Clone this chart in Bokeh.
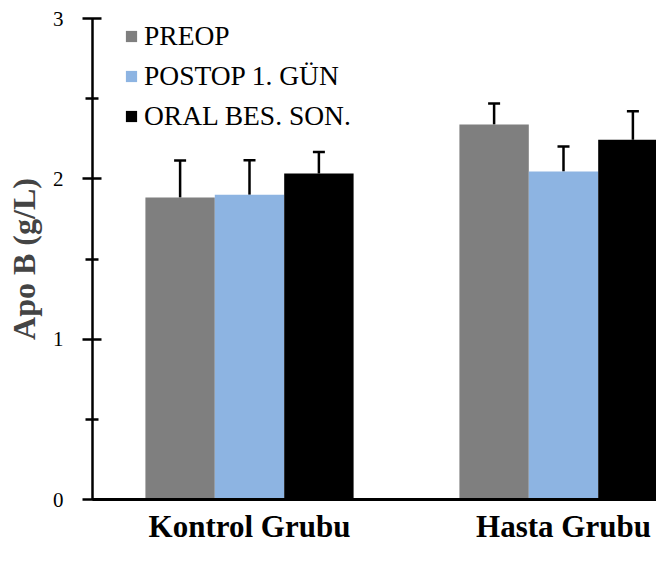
import numpy as np
from bokeh.plotting import figure
from bokeh.models import ColumnDataSource, Whisker, TeeHead, FixedTicker, Legend, LegendItem, Range1d
from bokeh.embed import file_html
from bokeh.resources import INLINE

# ---- data ----
groups = ["Kontrol Grubu", "Hasta Grubu"]
series = ["PREOP", "POSTOP 1. GÜN", "ORAL BES. SON."]
preop = [1.884, 2.339]
postop = [1.900, 2.046]
oral = [2.033, 2.243]
preop_err = [0.230, 0.131]
postop_err = [0.216, 0.156]
oral_err = [0.135, 0.179]
y_ticks = [0, 1, 2, 3]
colors = ["#7F7F7F", "#8DB4E2", "#000000"]

values = [preop, postop, oral]
errors = [preop_err, postop_err, oral_err]

bar_w = 0.221
offsets = [-bar_w, 0.0, bar_w]
centers = np.arange(len(groups)) + 0.5

p = figure(width=656, height=546, output_backend="svg", toolbar_location=None,
           x_range=Range1d(0, 564 / 314), y_range=Range1d(0, 3),
           min_border_left=92, min_border_top=18, min_border_bottom=47, min_border_right=0)
p.outline_line_color = None
p.xgrid.grid_line_color = None
p.ygrid.grid_line_color = None
p.background_fill_color = "white"

legend_items = []
for name, vals, errs, off, col in zip(series, values, errors, offsets, colors):
    src = ColumnDataSource(dict(x=centers + off, top=vals,
                                upper=[v + e for v, e in zip(vals, errs)]))
    r = p.vbar(x="x", top="top", width=bar_w, bottom=0, source=src,
               fill_color=col, line_color=None)
    w = Whisker(source=src, base="x", lower="top", upper="upper",
                line_color="black", line_width=2.5, lower_head=None,
                upper_head=TeeHead(size=12, line_width=2.5, line_color="black"))
    p.add_layout(w)
    legend_items.append(LegendItem(label=name, renderers=[r]))

legend = Legend(items=legend_items, location=(32, 363), orientation="vertical",
                glyph_width=14, glyph_height=14, label_height=40, spacing=0,
                label_standoff=6, padding=0, margin=0,
                border_line_color=None, background_fill_alpha=0,
                label_text_font="Liberation Serif", label_text_font_size="27.5px",
                label_text_color="black")
p.add_layout(legend)

# y axis
ya = p.yaxis[0]
ya.ticker = FixedTicker(ticks=y_ticks, minor_ticks=[0.5, 1.5, 2.5])
ya.axis_label = "Apo B (g/L)"
ya.axis_label_text_font = "Liberation Serif"
ya.axis_label_text_font_style = "bold"
ya.axis_label_text_font_size = "32px"
ya.axis_label_standoff = 8
ya.major_label_text_font = "Liberation Serif"
ya.major_label_text_font_size = "21px"
ya.major_label_text_color = "black"
ya.major_label_standoff = 19
ya.axis_line_width = 2.5
ya.axis_line_color = "black"
ya.major_tick_in = 9
ya.major_tick_out = 10
ya.major_tick_line_width = 2.5
ya.major_tick_line_color = "black"
ya.minor_tick_in = 6
ya.minor_tick_out = 7
ya.minor_tick_line_width = 2.5
ya.minor_tick_line_color = "black"

# x axis
xa = p.xaxis[0]
xa.ticker = FixedTicker(ticks=list(centers))
xa.major_label_overrides = {float(c): g for c, g in zip(centers, groups)}
xa.major_label_text_font = "Liberation Serif"
xa.major_label_text_font_style = "bold"
xa.major_label_text_font_size = "31px"
xa.major_label_text_color = "black"
xa.major_label_standoff = 3
xa.axis_line_width = 3
xa.axis_line_color = "black"
xa.major_tick_line_color = None
xa.minor_tick_line_color = None

open("out.html", "w").write(file_html(p, INLINE))
